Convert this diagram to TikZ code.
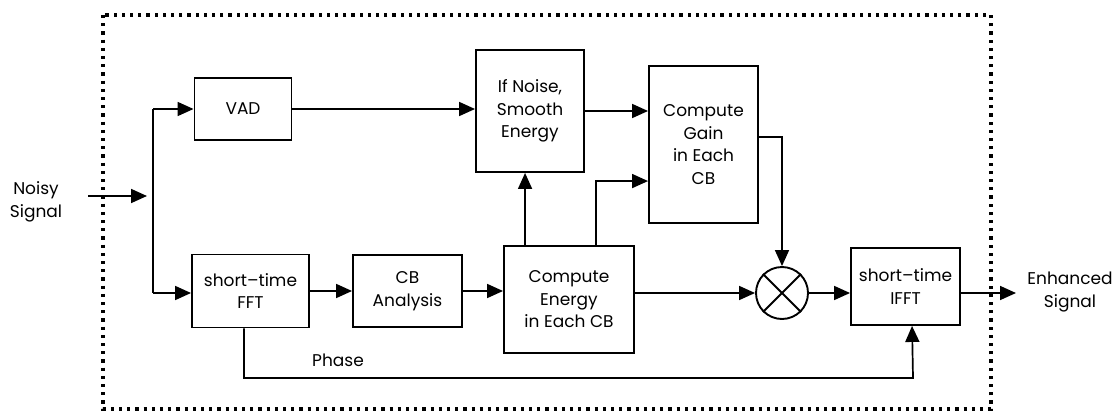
\documentclass[tikz,border=0pt]{standalone}
\usepackage{fontspec}
\setmainfont{Poppins}
\usetikzlibrary{arrows.meta,calc}
\tikzset{
  blk/.style={draw,line width=1.9pt,minimum width=#1,align=center,inner sep=0pt},
  arr/.style={line width=1.7pt,-{Triangle[length=16pt,width=14pt]}},
  ln/.style={line width=1.7pt},
  frame/.style={line width=3.2pt,dash pattern=on 3.2pt off 5pt},
  lbl/.style={align=center,inner sep=0pt}
}
\begin{document}
\begin{tikzpicture}[x=1pt,y=-1pt,font=\fontsize{17}{22.5}\selectfont]
\useasboundingbox (0,0) rectangle (1118,412);
\draw[frame] (103,15) rectangle (991,409);
% blocks
\node[blk=97pt,minimum height=62pt] (vad) at (243,109) {VAD};
\node[blk=117pt,minimum height=73pt] (fft) at (250.5,291) {short--time\\FFT};
\node[blk=109pt,minimum height=72pt] (cba) at (407.5,291) {CB\\Analysis};
\node[blk=130pt,minimum height=107pt] (ene) at (569,299.5) {Compute\\Energy\\in Each CB};
\node[blk=108pt,minimum height=122pt] (smo) at (530,111) {If Noise,\\Smooth\\Energy};
\node[blk=109pt,minimum height=157pt] (gain) at (703.5,144.5) {Compute\\Gain\\in Each\\CB};
\node[draw,circle,line width=1.9pt,minimum size=52pt,inner sep=0pt] (mult) at (782,293) {};
\draw[line width=1.9pt] (mult.north west) -- (mult.south east) (mult.north east) -- (mult.south west);
\node[blk=109pt,minimum height=77pt] (ifft) at (905.5,286.5) {short--time\\IFFT};
% labels
\node[lbl] (noisy) at (36,202) {Noisy\\Signal};
\node[lbl] (enh) at (1070,292) {Enhanced\\Signal};
\node[lbl] (phase) at (338,360) {Phase};
% coordinates
\coordinate (inS) at (88,196);
\coordinate (inE) at (147,196);
\coordinate (sp1) at (153,109);
\coordinate (sp2) at (153,293);
\coordinate (out) at (1016,293);
\coordinate (ph) at (913,378);
% connectors
\draw[arr] (inS) -- (inE);
\draw[ln] (sp1) -- (sp2);
\draw[arr] (sp1) -- (vad.west);
\draw[arr] (sp2) -- (sp2 -| fft.west);
\draw[arr] (fft.east) -- (cba.west);
\draw[arr] (cba.east) -- (cba.east -| ene.west);
\draw[arr] (vad.east) -- (vad.east -| smo.west);
\draw[arr] (smo.east) -- (smo.east -| gain.west);
\draw[arr] ($(ene.north west)+(22,0)$) -- ($(smo.south west)+(50,0)$);
\draw[arr] ($(ene.north west)+(93,0)$) |- ($(gain.north west)+(0,116)$);
\draw[arr] (ene.east |- mult.west) -- (mult.west);
\draw[arr] ($(gain.north east)+(0,72)$) -| (mult.north);
\draw[arr] (mult.east) -- (mult.east -| ifft.west);
\draw[arr] (ifft.east |- mult.east) -- (out);
\draw[arr] ($(fft.south west)+(53,0)$) |- (ph) -- ($(ifft.south west)+(62,0)$);
\end{tikzpicture}
\end{document}
